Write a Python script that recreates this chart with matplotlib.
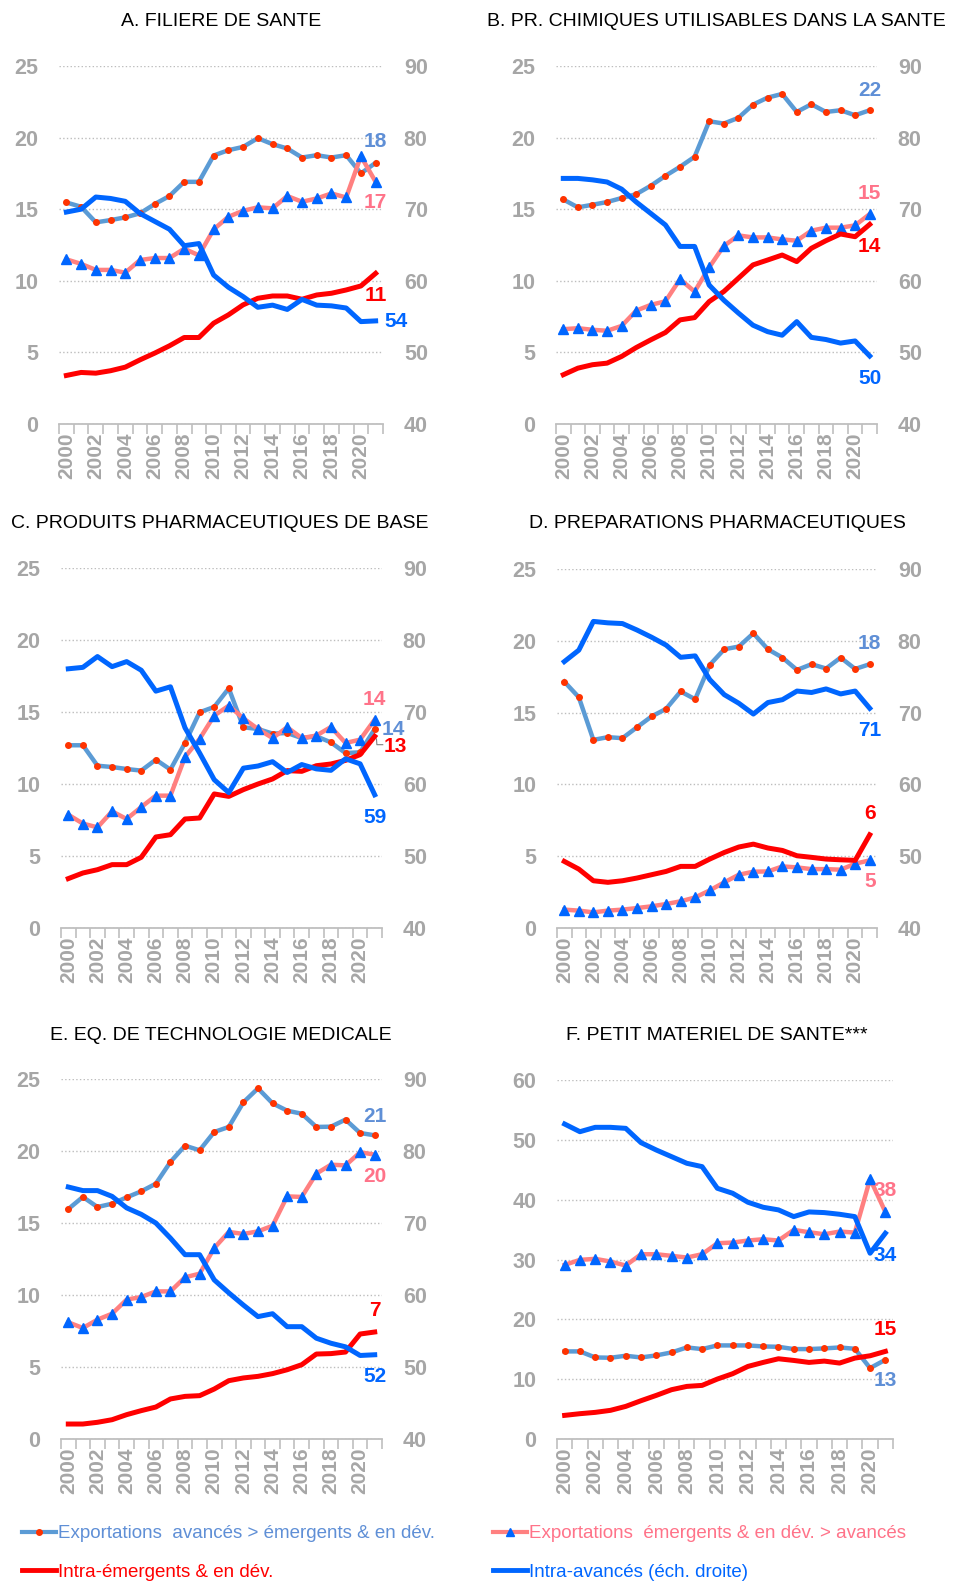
import matplotlib
matplotlib.use('Agg')
import matplotlib.pyplot as plt
from matplotlib.lines import Line2D
import numpy as np

plt.rcParams['font.family'] = ['Liberation Sans', 'DejaVu Sans']

# ---------------- DATA ----------------
years = list(range(2000, 2022))
year_labels = [str(y) for y in years]

legend_labels = ["Exportations  avancés > émergents & en dév.",
                 "Intra-émergents & en dév.",
                 "Exportations  émergents & en dév. > avancés",
                 "Intra-avancés (éch. droite)"]

titles = ["A. FILIERE DE SANTE",
          "B. PR. CHIMIQUES UTILISABLES DANS LA SANTE",
          "C. PRODUITS PHARMACEUTIQUES DE BASE",
          "D. PREPARATIONS PHARMACEUTIQUES",
          "E. EQ. DE TECHNOLOGIE MEDICALE",
          "F. PETIT MATERIEL DE SANTE***"]

# A
a_exp_av = [15.47, 15.17, 14.08, 14.24, 14.43, 14.71, 15.36, 15.92, 16.91, 16.91, 18.75,
            19.12, 19.35, 19.96, 19.54, 19.24, 18.61, 18.77, 18.61, 18.77, 17.50, 18.24]
a_exp_em = [11.50, 11.18, 10.76, 10.76, 10.57, 11.45, 11.59, 11.59, 12.24, 11.78, 13.59,
            14.47, 14.89, 15.13, 15.06, 15.92, 15.52, 15.75, 16.10, 15.82, 18.70, 16.91]
a_intra_em = [3.39, 3.60, 3.55, 3.72, 3.97, 4.48, 4.95, 5.46, 6.04, 6.04, 7.04,
              7.62, 8.32, 8.78, 8.94, 8.94, 8.71, 9.01, 9.13, 9.36, 9.64, 10.52]
a_intra_av = [69.6, 70.0, 71.7, 71.5, 71.1, 69.4, 68.3, 67.2, 64.9, 65.2, 60.8,
              59.1, 57.8, 56.3, 56.6, 56.0, 57.4, 56.6, 56.5, 56.2, 54.3, 54.4]
a_end_labels = ["18", "17", "11", "54"]

# B
b_exp_av = [15.68, 15.13, 15.31, 15.50, 15.78, 16.05, 16.64, 17.33, 17.96, 18.66, 21.14,
            20.98, 21.38, 22.30, 22.79, 23.05, 21.79, 22.33, 21.79, 21.91, 21.56, 21.91]
b_exp_em = [6.62, 6.69, 6.58, 6.51, 6.85, 7.92, 8.32, 8.57, 10.11, 9.25, 10.94,
            12.43, 13.17, 13.03, 13.03, 12.89, 12.80, 13.50, 13.71, 13.71, 13.87, 14.66]
b_intra_em = [3.44, 3.90, 4.14, 4.25, 4.72, 5.34, 5.88, 6.39, 7.27, 7.43, 8.55,
              9.25, 10.18, 11.11, 11.45, 11.80, 11.34, 12.27, 12.80, 13.27, 13.08, 13.94]
b_intra_av = [74.3, 74.3, 74.1, 73.8, 72.8, 71.0, 69.4, 67.8, 64.8, 64.8, 59.4,
              57.3, 55.5, 53.8, 52.9, 52.4, 54.3, 52.1, 51.8, 51.3, 51.6, 49.5]
b_end_labels = ["22", "15", "14", "50"]

# C
c_exp_av = [12.69, 12.69, 11.27, 11.18, 11.04, 10.93, 11.69, 11.00, 12.85, 14.98, 15.35,
            16.64, 13.94, 13.82, 13.50, 13.54, 13.19, 13.31, 12.89, 12.15, 12.20, 13.82]
c_exp_em = [7.87, 7.25, 6.99, 8.10, 7.57, 8.40, 9.19, 9.19, 11.88, 13.13, 14.75,
            15.44, 14.56, 13.82, 13.19, 13.94, 13.19, 13.36, 13.96, 12.85, 13.08, 14.47]
c_intra_em = [3.43, 3.82, 4.05, 4.40, 4.40, 4.91, 6.32, 6.48, 7.57, 7.64, 9.31,
              9.14, 9.61, 10.00, 10.35, 10.93, 10.88, 11.27, 11.39, 11.64, 12.04, 13.31]
c_intra_av = [76.0, 76.2, 77.7, 76.3, 77.0, 75.8, 72.9, 73.5, 67.8, 64.3, 60.6,
              58.8, 62.2, 62.5, 63.1, 61.6, 62.7, 62.1, 61.9, 63.5, 62.8, 58.5]
c_end_labels = ["14", "14", "13", "59"]

# D
d_exp_av = [17.16, 16.07, 13.10, 13.29, 13.22, 13.98, 14.73, 15.26, 16.47, 15.93, 18.32,
            19.41, 19.60, 20.52, 19.41, 18.83, 17.97, 18.37, 18.07, 18.83, 18.04, 18.37]
d_exp_em = [1.28, 1.21, 1.09, 1.21, 1.28, 1.39, 1.51, 1.67, 1.86, 2.13, 2.62,
            3.18, 3.71, 3.92, 3.94, 4.29, 4.22, 4.10, 4.10, 4.06, 4.48, 4.71]
d_intra_em = [4.64, 4.10, 3.29, 3.18, 3.29, 3.48, 3.71, 3.94, 4.29, 4.29, 4.80,
              5.26, 5.64, 5.84, 5.57, 5.40, 5.03, 4.92, 4.80, 4.75, 4.71, 6.49]
d_intra_av = [77.1, 78.7, 82.7, 82.5, 82.4, 81.5, 80.5, 79.4, 77.7, 77.9, 74.6,
              72.5, 71.3, 69.8, 71.4, 71.8, 73.0, 72.8, 73.3, 72.6, 73.0, 70.6]
d_end_labels = ["18", "5", "6", "71"]

# E
e_exp_av = [15.97, 16.81, 16.11, 16.34, 16.78, 17.20, 17.73, 19.24, 20.37, 20.05, 21.32,
            21.67, 23.38, 24.35, 23.31, 22.80, 22.59, 21.67, 21.69, 22.18, 21.25, 21.09]
e_exp_em = [8.10, 7.71, 8.29, 8.70, 9.68, 9.86, 10.25, 10.25, 11.23, 11.48, 13.26,
            14.38, 14.24, 14.42, 14.81, 16.85, 16.81, 18.43, 19.05, 19.00, 19.91, 19.75]
e_intra_em = [1.04, 1.04, 1.16, 1.34, 1.69, 1.97, 2.22, 2.78, 2.96, 3.01, 3.47,
              4.05, 4.24, 4.35, 4.54, 4.81, 5.16, 5.90, 5.93, 6.04, 7.29, 7.43]
e_intra_av = [75.0, 74.5, 74.5, 73.7, 72.1, 71.2, 70.0, 67.9, 65.6, 65.6, 62.1,
              60.3, 58.6, 57.0, 57.4, 55.6, 55.6, 54.0, 53.3, 52.8, 51.6, 51.7]
e_end_labels = ["21", "20", "7", "52"]

# F (single axis)
f_exp_av = [14.64, 14.64, 13.63, 13.58, 13.91, 13.63, 13.97, 14.47, 15.30, 15.03, 15.64,
            15.64, 15.64, 15.47, 15.41, 15.03, 15.03, 15.14, 15.30, 15.08, 11.85, 13.24]
f_exp_em = [29.10, 29.94, 30.11, 29.66, 28.99, 30.88, 30.88, 30.61, 30.33, 30.88, 32.72,
            32.83, 33.17, 33.39, 33.17, 34.95, 34.56, 34.22, 34.67, 34.50, 43.46, 37.95]
f_intra_em = [3.95, 4.23, 4.45, 4.79, 5.45, 6.40, 7.29, 8.24, 8.79, 8.96, 10.02,
              10.91, 12.13, 12.80, 13.41, 13.13, 12.80, 13.02, 12.69, 13.52, 13.91, 14.64]
f_intra_av = [52.64, 51.36, 52.09, 52.09, 51.92, 49.53, 48.30, 47.19, 46.08, 45.52, 41.90,
              41.07, 39.57, 38.73, 38.29, 37.17, 37.95, 37.84, 37.56, 37.17, 31.05, 34.39]
f_end_labels = ["13", "38", "15", "34"]

# ---------------- STYLE ----------------
STEEL = '#5B9BD5'
PINK = '#FF8080'
RED = '#FF0000'
BLUE = '#0066FF'
DOT = '#FF3300'
TRI = '#0066FF'
STEEL_TXT = '#5F8FD6'
PINK_TXT = '#FF7389'
GRAY = '#A6A6A6'

W, H = 954, 1586
fig = plt.figure(figsize=(W / 100, H / 100), dpi=100)


def frac(l, t, r, b):
    return [l / W, 1 - b / H, (r - l) / W, (b - t) / H]


def panel(rect, title, txy, exp_av, exp_em, intra_em, intra_av, labels, lab_pos,
          right_axis=True, ymax=25, ystep=5):
    ax = fig.add_axes(frac(*rect))
    x = np.arange(len(years))
    ax.plot(x, exp_av, color=STEEL, lw=3.2, marker='o', ms=4, mfc=DOT, mec=DOT, zorder=3)
    ax.plot(x, exp_em, color=PINK, lw=3.2, marker='^', ms=6.5, mfc=TRI, mec=TRI, zorder=3)
    ax.plot(x, intra_em, color=RED, lw=3.6, zorder=4)
    ax.set_xlim(-0.5, len(years) - 0.5)
    ax.set_ylim(0, ymax)
    ax.set_yticks(np.arange(0, ymax + 0.1, ystep))
    ax.set_yticklabels([f"{v:g}" for v in np.arange(0, ymax + 0.1, ystep)])
    ax.yaxis.grid(True, ls=':', color='#BDBDBD', lw=1)
    ax.set_axisbelow(True)
    for s in ['top', 'left', 'right']:
        ax.spines[s].set_visible(False)
    ax.spines['bottom'].set_color('#BFBFBF')
    ax.spines['bottom'].set_linewidth(1.3)
    ax.set_xticks(np.arange(0, len(years), 2))
    ax.set_xticklabels(year_labels[::2], rotation=90, fontsize=15, fontweight='bold', color=GRAY)
    ax.set_xticks(np.arange(-0.5, len(years), 1), minor=True)
    ax.tick_params(axis='x', which='major', length=0, pad=6)
    ax.tick_params(axis='x', which='minor', length=7, color='#BFBFBF', width=1.2)
    ax.tick_params(axis='y', length=0, pad=15, labelsize=15.5, labelcolor=GRAY)
    for t in ax.get_yticklabels():
        t.set_fontweight('bold')
    if right_axis:
        ax2 = ax.twinx()
        ax2.plot(x, intra_av, color=BLUE, lw=3.6, zorder=4)
        ax2.set_ylim(40, 90)
        ax2.set_yticks(np.arange(40, 91, 10))
        ax2.tick_params(axis='y', length=0, pad=15, labelsize=15.5, labelcolor=GRAY)
        for t in ax2.get_yticklabels():
            t.set_fontweight('bold')
        for s in ax2.spines.values():
            s.set_visible(False)
    else:
        ax.plot(x, intra_av, color=BLUE, lw=3.6, zorder=4)
    cols = [STEEL_TXT, PINK_TXT, RED, BLUE]
    for s, c, (lx, ly) in zip(labels, cols, lab_pos):
        ax.text(lx, ly, s, color=c, fontsize=15, fontweight='bold', ha='center', va='center',
                clip_on=False)
    fig.text(txy[0] / W, 1 - txy[1] / H, title, fontsize=14, ha='center', va='center', color='black')
    return ax


panel((59, 66, 383, 424), titles[0], (221, 22), a_exp_av, a_exp_em, a_intra_em, a_intra_av,
      a_end_labels, [(21, 19.7), (21, 15.45), (21, 9.0), (22.4, 7.16)])
panel((556, 66, 877, 424), titles[1], (716, 22), b_exp_av, b_exp_em, b_intra_em, b_intra_av,
      b_end_labels, [(21, 23.26), (21, 16.1), (21, 12.38), (21, 3.2)])
axc = panel((61, 568, 382, 928), titles[2], (220, 524), c_exp_av, c_exp_em, c_intra_em, c_intra_av,
            c_end_labels, [(22.25, 13.77), (21, 15.86), (22.4, 12.6), (21, 7.7)])
axc.plot([21.12, 21.15, 21.55], [13.13, 12.73, 12.73], color='#7F7F7F', lw=0.8, clip_on=False)
panel((557, 569, 877, 928), titles[3], (717, 524), d_exp_av, d_exp_em, d_intra_em, d_intra_av,
      d_end_labels, [(21, 19.8), (21, 3.25), (21, 7.95), (21, 13.75)])
panel((61, 1079, 382, 1439), titles[4], (221, 1036), e_exp_av, e_exp_em, e_intra_em, e_intra_av,
      e_end_labels, [(21, 22.4), (21, 18.24), (21, 8.94), (21, 4.35)])
panel((557, 1080, 893, 1439), titles[5], (717, 1036), f_exp_av, f_exp_em, f_intra_em, f_intra_av,
      f_end_labels, [(21, 9.74), (21, 41.5), (21, 18.25), (21, 30.6)],
      right_axis=False, ymax=60, ystep=10)

# ---------------- LEGEND ----------------
h_exp_av = Line2D([], [], color=STEEL, lw=3, marker='o', ms=4, mfc=DOT, mec=DOT)
h_intra_em = Line2D([], [], color=RED, lw=3.5)
h_exp_em = Line2D([], [], color=PINK, lw=3, marker='^', ms=6, mfc=TRI, mec=TRI)
h_intra_av = Line2D([], [], color=BLUE, lw=3.5)

legkw = dict(loc='upper left', frameon=False, fontsize=13.5, handlelength=1.8,
             handletextpad=0.1, borderpad=0, borderaxespad=0, labelspacing=1.15)
leg1 = fig.legend([h_exp_av, h_intra_em], [legend_labels[0], legend_labels[1]],
                  bbox_to_anchor=(22 / W, 1 - 1525 / H), **legkw)
for t, c in zip(leg1.get_texts(), [STEEL_TXT, RED]):
    t.set_color(c)
leg2 = fig.legend([h_exp_em, h_intra_av], [legend_labels[2], legend_labels[3]],
                  bbox_to_anchor=(493 / W, 1 - 1525 / H), **legkw)
for t, c in zip(leg2.get_texts(), [PINK_TXT, BLUE]):
    t.set_color(c)

fig.savefig('out.png', dpi=100)
